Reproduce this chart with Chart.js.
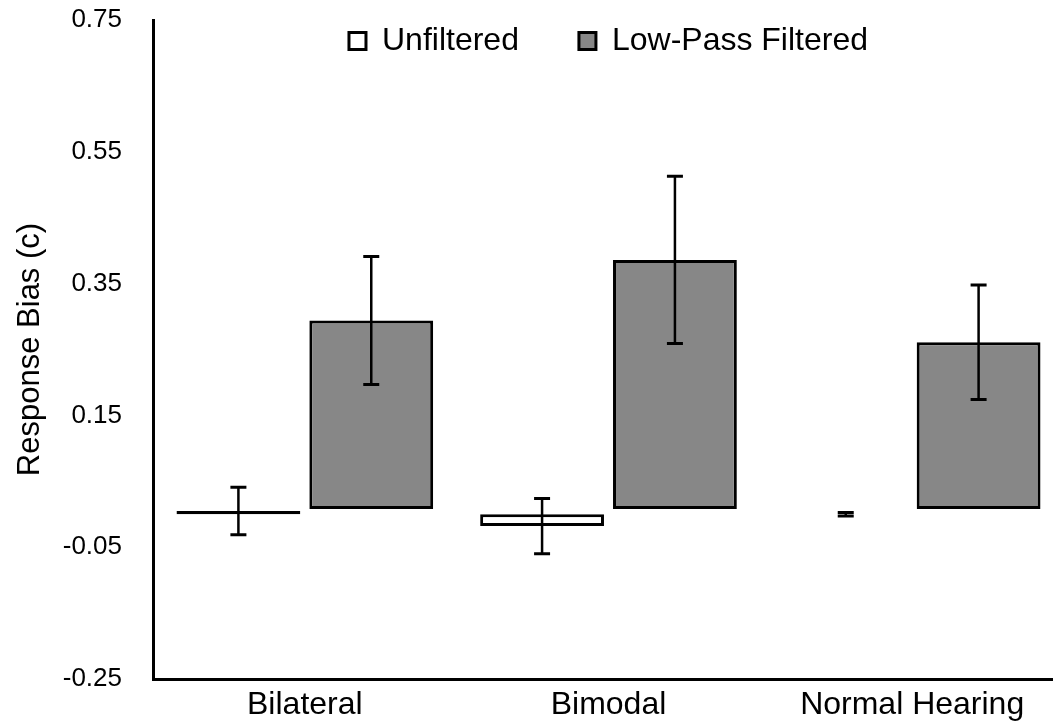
<!DOCTYPE html>
<html lang="en">
<head>
    <meta charset="UTF-8">
    <title>Response Bias</title>
    <script src="https://cdn.jsdelivr.net/npm/chart.js"></script>
    <style>
        body {
            margin: 0;
            padding: 0;
            background: #fff;
            overflow: hidden;
        }
        .chart-box {
            position: relative;
            width: 1066px;
            height: 723px;
        }
    </style>
</head>
<body>

<div class="chart-box">
    <canvas id="biasChart"></canvas>
</div>

<script>
    const groups = ['Bilateral', 'Bimodal', 'Normal Hearing'];
    const unfiltered = [0.005, -0.018, 0];
    const unfilteredErr = [0.036, 0.042, 0.0025];
    const lowPass = [0.294, 0.386, 0.261];
    const lowPassErr = [0.097, 0.127, 0.087];
    const lowPassBase = 0.008;
    const yTicks = [-0.25, -0.05, 0.15, 0.35, 0.55, 0.75];

    Chart.defaults.font.family = "'Liberation Sans', Arial, sans-serif";
    Chart.defaults.color = '#000';

    // error bars: vertical line plus caps, centred on the bar end
    const errorBars = {
        id: 'errorBars',
        afterDatasetsDraw(chart) {
            const ctx = chart.ctx;
            const y = chart.scales.y;
            ctx.save();
            ctx.strokeStyle = '#000';
            chart.data.datasets.forEach((ds, di) => {
                chart.getDatasetMeta(di).data.forEach((bar, i) => {
                    const raw = ds.data[i];
                    const v = Array.isArray(raw) ? raw[1] : raw;
                    const top = y.getPixelForValue(v + ds.errors[i]);
                    const bot = y.getPixelForValue(v - ds.errors[i]);
                    ctx.lineWidth = 2.5;
                    ctx.beginPath();
                    ctx.moveTo(bar.x, top);
                    ctx.lineTo(bar.x, bot);
                    ctx.stroke();
                    ctx.lineWidth = 3;
                    ctx.beginPath();
                    ctx.moveTo(bar.x - 8, top);
                    ctx.lineTo(bar.x + 8, top);
                    ctx.moveTo(bar.x - 8, bot);
                    ctx.lineTo(bar.x + 8, bot);
                    ctx.stroke();
                });
            });
            ctx.restore();
        }
    };

    // legend sits inside the plot area instead of taking its own row
    const legendInside = {
        id: 'legendInside',
        beforeLayout(chart) {
            const lg = chart.legend;
            if (lg && !lg._insideFit) {
                const fit = lg.fit;
                lg.fit = function () {
                    fit.call(this);
                    this.height = 0;
                };
                lg._insideFit = true;
            }
        },
        afterLayout(chart) {
            if (chart.legend) {
                chart.legend.top = -35;
                chart.legend.bottom = 100;
            }
        }
    };

    new Chart(document.getElementById('biasChart'), {
        type: 'bar',
        data: {
            labels: groups,
            datasets: [{
                label: 'Unfiltered',
                data: unfiltered,
                errors: unfilteredErr,
                backgroundColor: '#fff',
                borderColor: '#000',
                borderWidth: 3,
                borderSkipped: false
            }, {
                label: 'Low-Pass Filtered',
                data: lowPass.map(v => [lowPassBase, v]),
                errors: lowPassErr,
                backgroundColor: '#878787',
                borderColor: '#000',
                borderWidth: 3,
                borderSkipped: false
            }]
        },
        options: {
            responsive: true,
            maintainAspectRatio: false,
            animation: false,
            layout: {
                padding: { top: 20, right: 2, left: 0, bottom: 0 }
            },
            datasets: {
                bar: {
                    categoryPercentage: 0.875,
                    barPercentage: 0.932
                }
            },
            plugins: {
                tooltip: { enabled: false },
                legend: {
                    position: 'top',
                    fullSize: false,
                    labels: {
                        boxWidth: 17,
                        boxHeight: 17,
                        padding: 60,
                        font: { size: 32 }
                    }
                }
            },
            scales: {
                x: {
                    grid: { display: false, drawTicks: false },
                    border: { color: '#000', width: 3 },
                    ticks: { padding: 7, font: { size: 32 } },
                    afterFit(scale) { scale.height = 44; }
                },
                y: {
                    min: -0.25,
                    max: 0.75,
                    grid: { display: false, drawTicks: false },
                    border: { color: '#000', width: 3 },
                    afterBuildTicks(scale) {
                        scale.ticks = yTicks.map(v => ({ value: v }));
                    },
                    ticks: {
                        padding: 31,
                        font: { size: 26 },
                        callback: v => v.toFixed(2)
                    },
                    title: {
                        display: true,
                        text: 'Response Bias (c)',
                        font: { size: 31 },
                        padding: { top: 12, bottom: 0 }
                    },
                    afterFit(scale) {
                        scale.width = 153;
                        scale.paddingTop = 0;
                        scale.paddingBottom = 0;
                    }
                }
            }
        },
        plugins: [errorBars, legendInside]
    });
</script>

</body>
</html>
